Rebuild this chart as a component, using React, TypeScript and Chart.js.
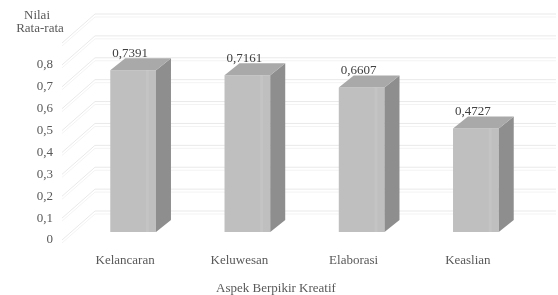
import React, { useEffect, useRef } from "react";
import { Chart, registerables } from "chart.js";

Chart.register(...registerables);

const categories = ["Kelancaran", "Keluwesan", "Elaborasi", "Keaslian"];
const values = [0.7391, 0.7161, 0.6607, 0.4727];
const valueLabels = ["0,7391", "0,7161", "0,6607", "0,4727"];
const yTickValues = [0, 0.1, 0.2, 0.3, 0.4, 0.5, 0.6, 0.7, 0.8, 0.9];
const yTitleLines = ["Nilai", "Rata-rata"];
const xTitle = "Aspek Berpikir Kreatif";

const FONT = "'Times New Roman', Tinos, 'Noto Serif', 'Liberation Serif', serif";

const depthPlugin = {
  id: "depth3d",
  beforeDatasetsDraw(chart: any) {
    const { ctx, chartArea, scales } = chart;
    const y = scales.y;
    const backDx = 19, backDy = -21;
    const labDx = -14, labDy = 8;
    ctx.save();
    for (const v of yTickValues) {
      const yf = y.getPixelForValue(v);
      const yb = yf + backDy;
      const xb = chartArea.left + backDx;
      const xl = chartArea.left + labDx;
      const yl = yf + labDy;
      for (const [off, col] of [[0, "#e9e9e9"], [3, "#f3f3f3"]] as any) {
        ctx.strokeStyle = col;
        ctx.lineWidth = 1;
        ctx.beginPath();
        ctx.moveTo(xl, yl + off);
        ctx.lineTo(xb, yb + off);
        ctx.lineTo(chart.width - 2, yb + off);
        ctx.stroke();
      }
    }
    ctx.restore();
  },
  afterDatasetsDraw(chart: any) {
    const { ctx } = chart;
    const meta = chart.getDatasetMeta(0);
    const dx = 15, dy = -12;
    ctx.save();
    meta.data.forEach((bar: any, i: number) => {
      const p = bar.getProps(["x", "y", "base", "width"], true);
      const left = p.x - p.width / 2;
      const right = p.x + p.width / 2;
      const top = p.y;
      const bottom = p.base;
      ctx.fillStyle = "#8e8e8e";
      ctx.beginPath();
      ctx.moveTo(right, top);
      ctx.lineTo(right + dx, top + dy);
      ctx.lineTo(right + dx, bottom + dy);
      ctx.lineTo(right, bottom);
      ctx.closePath();
      ctx.fill();
      ctx.fillStyle = "#a9a9a9";
      ctx.beginPath();
      ctx.moveTo(left, top);
      ctx.lineTo(left + dx, top + dy);
      ctx.lineTo(right + dx, top + dy);
      ctx.lineTo(right, top);
      ctx.closePath();
      ctx.fill();
      ctx.fillStyle = "rgba(255,255,255,0.08)";
      ctx.fillRect(right - p.width * 0.22, top, 3, bottom - top);
      ctx.fillStyle = "#404040";
      ctx.font = `13px ${FONT}`;
      ctx.textAlign = "left";
      ctx.textBaseline = "middle";
      ctx.fillText(valueLabels[i], left + 2, top - 17);
    });
    ctx.fillStyle = "#595959";
    ctx.font = `13px ${FONT}`;
    ctx.textAlign = "center";
    ctx.textBaseline = "middle";
    ctx.fillText(yTitleLines[0], 37, 16);
    ctx.fillText(yTitleLines[1], 40, 29);
    ctx.fillText(xTitle, 276, 289);
    ctx.restore();
  },
};

export default function App() {
  const ref = useRef<HTMLCanvasElement>(null);
  useEffect(() => {
    if (!ref.current) return;
    const chart = new Chart(ref.current, {
      type: "bar",
      data: {
        labels: categories,
        datasets: [
          {
            data: values,
            backgroundColor: "#bfbfbf",
            borderWidth: 0,
            barPercentage: 0.8,
            categoryPercentage: 0.5,
          },
        ],
      },
      options: {
        animation: false,
        responsive: false,
        maintainAspectRatio: false,
        layout: { padding: { left: 0, right: 25, top: 35, bottom: 0 } },
        plugins: { legend: { display: false }, tooltip: { enabled: false } },
        scales: {
          x: {
            grid: { display: false, drawTicks: false },
            border: { display: false },
            ticks: {
              color: "#595959",
              font: { family: FONT, size: 13 },
              padding: 21,
              labelOffset: -8,
              maxRotation: 0,
            },
            afterFit: (s: any) => {
              s.height = 63;
            },
          },
          y: {
            min: 0,
            max: 0.9,
            grid: { display: false, drawTicks: false },
            border: { display: false },
            ticks: {
              stepSize: 0.1,
              color: "#595959",
              font: { family: FONT, size: 13 },
              padding: 23,
              labelOffset: 8,
              callback: (v: any) =>
                v > 0.85 ? "" : v === 0 ? "0" : Number(v).toFixed(1).replace(".", ","),
            },
            afterFit: (s: any) => {
              s.width = 76;
            },
          },
        },
      },
      plugins: [depthPlugin],
    });
    let alive = true;
    (document as any).fonts?.ready?.then(() => {
      if (alive) chart.update();
    });
    return () => {
      alive = false;
      chart.destroy();
    };
  }, []);
  return (
    <div style={{ position: "fixed", left: 0, top: 0, width: 558, height: 295, background: "#fff" }}>
      <canvas ref={ref} width={558} height={295} style={{ width: 558, height: 295, display: "block" }} />
    </div>
  );
}
